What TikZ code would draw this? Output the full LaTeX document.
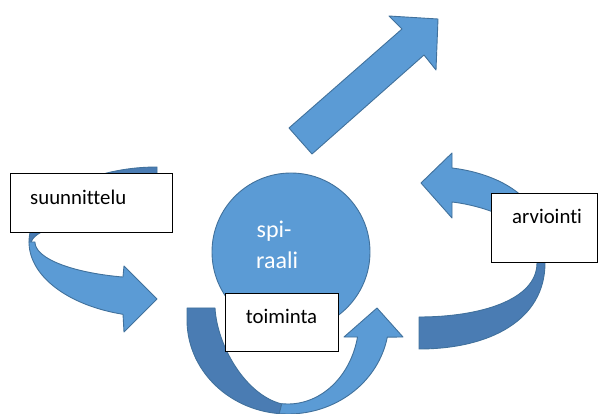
\documentclass[tikz,border=0pt]{standalone}
\usepackage{fontspec}
\setmainfont{Carlito}[Ligatures={NoCommon,NoContextual}]
\definecolor{lightblue}{HTML}{5B9BD5}
\definecolor{darkblue}{HTML}{4A7CB3}
\definecolor{edgeblue}{HTML}{41719C}
\begin{document}
\begin{tikzpicture}[x=1pt,y=-1pt,
  front/.style={fill=lightblue,draw=edgeblue,line width=0.9pt,line join=round},
  back/.style={fill=darkblue,draw=edgeblue,line width=0.9pt,line join=round},
  box/.style={draw=black,fill=white,line width=0.8pt,rectangle,inner sep=0pt,anchor=north west},
  lbl/.style={anchor=base west,inner sep=0pt,font=\fontsize{20.8}{25}\selectfont},
  spitxt/.style={anchor=base west,inner sep=0pt,text=white,font=\fontsize{24}{29}\selectfont}]
\useasboundingbox (0,0) rectangle (598,414);

% circle
\node[circle,fill=lightblue,draw=edgeblue,line width=0.9pt,minimum size=158pt,inner sep=0pt] (spiraali) at (291,252) {};
\node[spitxt] (spiTxt) at (256.5,237.3) {spi-};
\node[spitxt] (raaliTxt) at (256,269) {raali};

% big straight arrow
\draw[front] (289,128) -- (402,29) -- (389,16) -- (438,19) -- (436,70) -- (424,55) -- (312,154) -- cycle;

% arrow A (suunnittelu): back face
\draw[back] plot[domain=180:270,smooth,samples=40,variable=\t] ({157+128*cos(\t)},{242+75*sin(\t)})
  -- (157,214)
  -- plot[domain=270:180,smooth,samples=40,variable=\t] ({157+126*cos(\t)},{244+30*sin(\t)})
  -- cycle;
% arrow A front face
\draw[front] plot[domain=180:105.4,smooth,samples=40,variable=\t] ({157+128*cos(\t)},{242+75*sin(\t)})
  -- (124,332) -- (157,299) -- (124,266)
  -- plot[domain=106.2:180,smooth,samples=40,variable=\t] ({157+122*cos(\t)},{242+36.5*sin(\t)})
  -- cycle;

% arrow B (toiminta): back face
\draw[back] (187,308) -- (215,308) .. controls (217,345) and (245,395) .. (282,404)
  -- plot[domain=95:180,smooth,samples=40,variable=\t] ({288+101*cos(\t)},{320+94*sin(\t)})
  -- cycle;
% arrow B front face
\draw[front] plot[domain=95:10.5,smooth,samples=40,variable=\t] ({288+101*cos(\t)},{320+94*sin(\t)})
  -- (403,337) -- (377,308) -- (344,337)
  -- plot[domain=11.7:95,smooth,samples=40,variable=\t] ({288+71*cos(\t)},{320+84*sin(\t)})
  -- cycle;

% arrow C (arviointi): back face
\draw[back] (419,317) -- (419,349) .. controls (490,349) and (545,320) .. (545,263)
  -- (545,240) -- (537,240) -- (537,263) .. controls (537,300) and (480,317) .. (419,317) -- cycle;
% arrow C front face
\draw[front] (452,168) .. controls (485,172) and (515,185) .. (530,205) -- (500,215)
  .. controls (490,210) and (470,204) .. (452,202) -- (452,218) -- (421,183) -- (452,153) -- cycle;

% boxes
\node[box,minimum width=162pt,minimum height=59pt] (suunBox) at (10,173) {};
\node[lbl] (suunTxt) at (30,205) {suunnittelu};
\node[box,minimum width=113pt,minimum height=58pt] (toimBox) at (225,293) {};
\node[lbl] (toimTxt) at (245.7,324) {toiminta};
\node[box,minimum width=106pt,minimum height=69pt] (arvBox) at (491,193) {};
\node[lbl] (arvTxt) at (512,223.3) {arviointi};
\end{tikzpicture}
\end{document}
